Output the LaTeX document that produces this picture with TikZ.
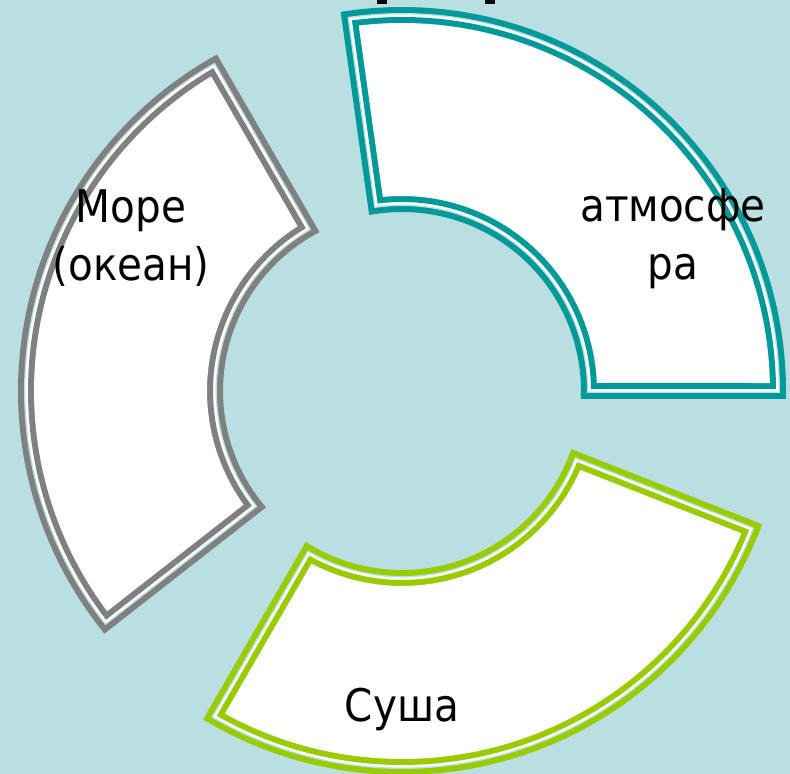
\documentclass[tikz,border=0pt]{standalone}
\usepackage{fontspec}
\setmainfont{DejaVu Sans}[FakeStretch=0.9]
\definecolor{bgblue}{RGB}{185,223,227}
\definecolor{tealc}{RGB}{0,153,153}
\definecolor{grayc}{RGB}{128,128,128}
\definecolor{greenc}{RGB}{153,204,0}
\newcommand{\ringpart}[4]{%
  \pgfmathsetmacro\rgRo{376-(#3)}%
  \pgfmathsetmacro\rgri{187+(#3)}%
  \pgfmathsetmacro\rgaoS{#1+asin((#3)/\rgRo)}%
  \pgfmathsetmacro\rgaoE{#2-asin((#3)/\rgRo)}%
  \pgfmathsetmacro\rgaiS{#1+asin((#3)/\rgri)}%
  \pgfmathsetmacro\rgaiE{#2-asin((#3)/\rgri)}%
  \fill[#4] (\rgaoS:\rgRo) arc[start angle=\rgaoS, end angle=\rgaoE, radius=\rgRo]
     -- (\rgaiE:\rgri) arc[start angle=\rgaiE, end angle=\rgaiS, radius=\rgri] -- cycle;}
\newcommand{\ringseg}[3]{%
  \ringpart{#1}{#2}{-8}{#3}%
  \ringpart{#1}{#2}{-2}{bgblue}%
  \ringpart{#1}{#2}{-0.6}{white}%
  \ringpart{#1}{#2}{2}{#3}%
  \ringpart{#1}{#2}{8}{white}}
\tikzset{lbl/.style={font=\fontsize{33.75}{43.5}\selectfont, align=center, anchor=base, inner sep=0pt, text=black}}
\begin{document}
\begin{tikzpicture}[x=0.75pt,y=0.75pt]
\fill[bgblue] (0,0) rectangle (790,774);
\useasboundingbox (0,0) rectangle (790,774);
\fill[black] (377,770) rectangle (387,774);
\fill[black] (485,770) rectangle (495,774);
\begin{scope}[shift={(402,383)}]
\ringseg{0}{98}{tealc}
\ringseg{120}{218}{grayc}
\ringseg{240}{338.5}{greenc}
\end{scope}
\node[lbl] (sea) at (131,493) {Море\\(океан)};
\node[lbl] (air) at (673,494) {атмосфе\\ра};
\node[lbl] (land) at (402,52) {Суша};
\end{tikzpicture}
\end{document}
